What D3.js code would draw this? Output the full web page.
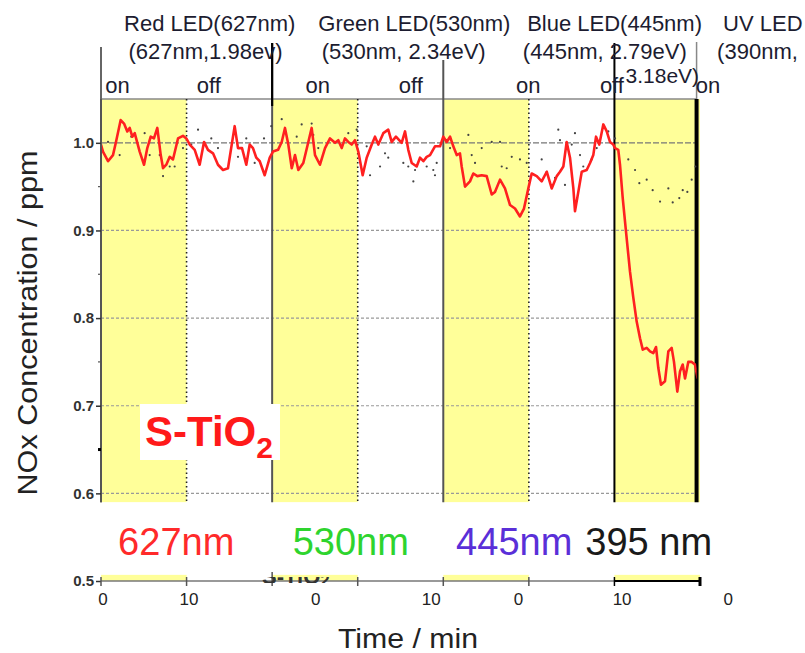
<!DOCTYPE html>
<html><head><meta charset="utf-8">
<script src="https://cdn.jsdelivr.net/npm/d3@7"></script>
<style>body{margin:0;background:#fff}svg{display:block}text{font-family:"Liberation Sans",Arial,sans-serif}</style>
</head><body><svg id="c" width="805" height="653"></svg>
<script>
// ---------- data ----------
const onStarts = [0, 20, 40, 60];
const periodLen = 10;
const tEnd = 69.6;
const redTime = [0,0.23,0.82,1.40,1.75,2.30,2.69,3.07,3.35,3.66,3.94,4.52,5.03,5.41,5.81,6.19,6.58,6.98,7.25,7.63,8.03,8.41,9.00,9.58,9.97,10.37,10.95,11.53,12.04,12.50,13.09,13.67,14.26,14.84,15.62,16.01,16.48,16.98,17.38,17.76,18.15,18.55,19.13,19.72,20.10,20.69,21.12,21.50,21.89,22.29,22.67,23.06,23.64,24.23,24.62,25.01,25.59,26.18,26.76,27.35,27.73,28.13,28.51,28.90,29.30,29.68,30.07,30.58,31.05,31.64,32.02,32.41,32.99,33.57,33.97,34.47,35.14,35.53,35.91,36.31,36.89,37.28,37.67,38.06,38.45,39.03,39.62,40.00,40.40,40.79,41.17,41.57,41.95,42.15,42.54,43.12,43.51,43.98,44.49,45.07,45.66,46.04,46.63,47.21,47.80,48.38,48.96,49.43,49.94,50.33,50.92,51.50,52.09,52.67,53.26,53.64,54.03,54.42,54.81,55.20,55.39,55.78,56.18,56.76,57.15,57.53,57.85,58.23,58.70,59.10,59.48,59.87,60.07,60.45,60.65,60.97,61.35,61.82,62.21,62.60,62.99,63.31,63.77,64.16,64.54,64.86,65.13,65.44,65.91,66.30,66.69,66.96,67.35,67.66,67.98,68.25,68.63,69.03,69.41,69.73];
const redValue = [0.998,0.990,0.979,0.986,1.001,1.026,1.022,1.013,1.017,1.007,1.011,0.990,0.975,0.994,1.007,1.005,1.017,0.986,0.971,0.975,0.984,0.981,1.005,1.008,1.005,0.998,0.992,0.975,1.001,0.992,0.988,0.975,0.969,0.971,1.019,0.994,0.994,0.975,0.998,0.994,0.983,0.979,0.963,0.983,0.990,0.992,1.001,1.017,0.998,0.971,0.986,0.969,0.977,1.001,1.017,0.986,0.975,0.994,1.005,1.000,1.003,0.994,1.005,1.001,0.998,1.003,0.990,0.963,0.983,0.998,1.007,0.998,1.011,1.015,1.001,1.007,1.000,1.013,0.992,0.977,0.973,0.983,0.979,0.984,0.986,0.996,0.996,1.007,1.001,1.007,0.996,0.986,0.988,0.973,0.950,0.956,0.965,0.962,0.963,0.962,0.941,0.944,0.958,0.948,0.929,0.925,0.916,0.925,0.948,0.965,0.962,0.956,0.967,0.948,0.962,0.967,0.973,1.001,0.983,0.948,0.922,0.944,0.967,0.969,0.977,0.986,1.007,0.998,1.021,1.013,1.001,0.998,0.994,0.992,0.975,0.937,0.899,0.853,0.823,0.796,0.777,0.764,0.766,0.762,0.760,0.767,0.743,0.724,0.728,0.762,0.766,0.750,0.716,0.739,0.747,0.731,0.750,0.750,0.747,0.731];
const refTime = [0.82,2.18,3.54,5.10,5.69,6.86,7.25,8.03,8.61,9.58,10.55,11.34,12.89,13.67,14.26,16.01,16.98,17.96,19.05,19.90,21.12,22.87,23.45,24.62,24.81,25.39,28.90,29.88,31.05,31.44,32.61,33.19,33.57,35.33,35.91,36.50,36.70,38.06,38.83,39.03,39.23,40.40,40.79,42.93,43.32,43.71,44.49,45.66,46.63,46.83,47.41,48.00,48.96,49.75,51.50,52.09,53.06,53.44,53.64,54.22,55.01,55.39,55.98,56.36,57.34,57.93,59.29,60.07,61.62,62.41,62.91,63.77,64.47,65.33,66.30,66.81,67.58,67.98,68.52,69.03,69.47];
const refValue = [1.001,0.986,1.007,1.011,0.986,0.986,0.962,0.973,0.973,0.994,0.998,1.015,1.005,0.994,0.969,0.984,1.005,0.977,1.005,1.019,1.027,1.007,1.021,1.022,1.009,0.994,1.011,1.015,0.996,0.963,0.973,0.988,0.983,0.977,0.973,0.956,0.969,0.973,0.969,0.963,0.977,1.003,0.994,1.009,0.986,0.977,0.994,1.001,1.001,0.973,0.971,0.984,0.981,0.977,0.981,0.967,0.960,1.015,1.003,0.952,0.998,1.011,0.986,0.973,0.981,0.994,1.013,1.005,0.981,0.969,0.954,0.958,0.946,0.933,0.948,0.932,0.937,0.946,0.944,0.958,0.973];
const yTicks = [0.5, 0.6, 0.7, 0.8, 0.9, 1.0];
const yMinor = [0.65, 0.75, 0.85, 0.95];
const xTicks = [0, 10, 20, 30, 40, 50, 60, 70];
const xTickLabels = ["0", "10", "0", "10", "0", "10", "0"];
const xTickLabelAt = [0.23, 10.28, 25.1, 38.6, 48.8, 60.9, 73.3];
const ledNames = ["Red LED(627nm)", "Green LED(530nm)", "Blue LED(445nm)", "UV LED"];
const ledNameAt = [2.7, 25.4, 49.8, 72.7];
const ledSubs = ["(627nm,1.98ev)", "(530nm, 2.34eV)", "(445nm, 2.79eV)", "(390nm,"];
const ledSubAt = [3.2, 25.8, 49.3, 72.0];
const ledSubExtra = "3.18eV)";
const ledSubExtraAt = 61.3;
const stateLabels = ["on", "off", "on", "off", "on", "off", "on"];
const stateAt = [0.5, 11.2, 23.9, 34.8, 48.5, 58.3, 69.5];
const nmLabels = ["627nm", "530nm", "445nm", "395 nm"];
const nmColors = ["#ff2a2a", "#2ed42e", "#5a2fd8", "#1a1a1a"];
const nmAt = [2.0, 22.4, 41.5, 56.6];
const sampleName = "S-TiO";
const sampleSub = "2";

// ---------- drawing ----------
const svg = d3.select("#c");
const x = d3.scaleLinear().domain([0, 70]).range([101, 700]);
const y = d3.scaleLinear().domain([0.5, 1.05]).range([581, 99]);
const yBot = 0.59;
const ink = "#1c1c30";

// yellow "on" bands (main)
svg.append("g").selectAll("rect").data(onStarts).join("rect")
  .attr("x", d => x(d)).attr("y", y(1.05))
  .attr("width", d => x(Math.min(d + periodLen, 70)) - x(d))
  .attr("height", y(yBot) - y(1.05)).attr("fill", "#ffff99");
// yellow strip near bottom axis
svg.append("g").selectAll("rect").data(onStarts).join("rect")
  .attr("x", d => x(d)).attr("y", y(0.507))
  .attr("width", d => x(Math.min(d + periodLen, 70)) - x(d))
  .attr("height", y(0.5) - y(0.507)).attr("fill", "#ffff99");

// horizontal grid
svg.append("g").selectAll("line").data(yTicks.filter(d => d >= 0.6)).join("line")
  .attr("x1", x(0)).attr("x2", x(tEnd)).attr("y1", d => y(d)).attr("y2", d => y(d))
  .attr("stroke", d => d === 1.0 ? "#777" : "#999").attr("stroke-width", 1.2)
  .attr("stroke-dasharray", d => d === 1.0 ? "6,2" : "3,2");

// top border line
svg.append("line").attr("x1", x(0)).attr("x2", x(tEnd)).attr("y1", y(1.05)).attr("y2", y(1.05))
  .attr("stroke", "#888").attr("stroke-width", 1.5);

// dotted "off" start lines
svg.append("g").selectAll("line").data(onStarts.map(d => d + periodLen).filter(d => d < tEnd)).join("line")
  .attr("x1", d => x(d)).attr("x2", d => x(d)).attr("y1", y(1.05)).attr("y2", y(yBot))
  .attr("stroke", "#222").attr("stroke-width", 1.6).attr("stroke-dasharray", "1.5,3");

// solid dividers
const dividers = [0, 20, 40, 60];
const divTop = [47, 43, 60, 43];
const divColor = ["#666", "#555", "#555", "#000"];
svg.append("g").selectAll("line").data(dividers).join("line")
  .attr("x1", d => x(d)).attr("x2", d => x(d))
  .attr("y1", (d, i) => divTop[i]).attr("y2", y(yBot))
  .attr("stroke", (d, i) => divColor[i]).attr("stroke-width", 2);
svg.append("line").attr("x1", x(20)).attr("x2", x(20)).attr("y1", 43).attr("y2", 106)
  .attr("stroke", "#000").attr("stroke-width", 2.2);
// right edge
svg.append("line").attr("x1", x(tEnd)).attr("x2", x(tEnd)).attr("y1", 42).attr("y2", y(1.05))
  .attr("stroke", "#888").attr("stroke-width", 1.5);
svg.append("line").attr("x1", x(tEnd)).attr("x2", x(tEnd)).attr("y1", y(1.05)).attr("y2", y(yBot))
  .attr("stroke", "#000").attr("stroke-width", 4);

// clip
svg.append("clipPath").attr("id", "clip").append("rect")
  .attr("x", x(0)).attr("y", y(1.05)).attr("width", x(tEnd) - x(0)).attr("height", y(yBot) - y(1.05));

// reference dots
svg.append("g").attr("clip-path", "url(#clip)").selectAll("circle").data(refTime).join("circle")
  .attr("cx", d => x(d)).attr("cy", (d, i) => y(refValue[i])).attr("r", 1.1).attr("fill", "#444");

// red line
const line = d3.line().x(d => x(d[0])).y(d => y(d[1]));
svg.append("path").attr("clip-path", "url(#clip)")
  .datum(redTime.map((t, i) => [t, redValue[i]]))
  .attr("d", line).attr("fill", "none").attr("stroke", "#ff2020").attr("stroke-width", 2.6)
  .attr("stroke-linejoin", "round");

// left axis line
svg.append("line").attr("x1", x(0)).attr("x2", x(0)).attr("y1", y(1.05)).attr("y2", y(yBot))
  .attr("stroke", "#555").attr("stroke-width", 2);

// y axis ticks & labels
const yAxis = d3.axisLeft(y).tickValues(yTicks).tickFormat(d3.format(".1f")).tickSize(5).tickPadding(2);
const ya = svg.append("g").attr("transform", `translate(${x(0)},0)`).call(yAxis);
ya.select(".domain").remove();
ya.selectAll("line").attr("stroke", "#333").attr("stroke-width", 1.5);
ya.selectAll("text").attr("font-size", 15).attr("fill", "#333").attr("font-weight", "bold")
  .attr("font-family", '"Liberation Sans",Arial,sans-serif');
svg.append("g").selectAll("line").data(yMinor).join("line")
  .attr("x1", x(0) - 3).attr("x2", x(0)).attr("y1", d => y(d)).attr("y2", d => y(d))
  .attr("stroke", d => d === 0.65 ? "#000" : "#555").attr("stroke-width", d => d === 0.65 ? 3 : 1.2);

// bottom axis
svg.append("line").attr("x1", x(0)).attr("x2", x(60)).attr("y1", y(0.5)).attr("y2", y(0.5))
  .attr("stroke", "#777").attr("stroke-width", 1.5);
svg.append("line").attr("x1", x(60)).attr("x2", x(70)).attr("y1", y(0.5)).attr("y2", y(0.5))
  .attr("stroke", "#000").attr("stroke-width", 2);
svg.append("g").selectAll("line").data(xTicks).join("line")
  .attr("x1", d => x(d)).attr("x2", d => x(d))
  .attr("y1", d => y(0.5) - (d === 20 ? 9 : 4)).attr("y2", y(0.5) + 5)
  .attr("stroke", d => d >= 60 ? "#000" : "#555").attr("stroke-width", d => d === 70 ? 3 : 1.5);
svg.append("g").selectAll("text").data(xTickLabels).join("text")
  .attr("x", (d, i) => x(xTickLabelAt[i])).attr("y", 605).attr("text-anchor", "middle")
  .attr("font-size", 17).attr("fill", "#222").text(d => d);

// hidden sample label fragment at axis
svg.append("clipPath").attr("id", "clipFrag").append("rect")
  .attr("x", 255).attr("y", 577).attr("width", 110).attr("height", 6);
const frag = svg.append("text").attr("clip-path", "url(#clipFrag)")
  .attr("x", 262).attr("y", 584).attr("font-size", 22).attr("font-weight", "bold").attr("fill", "#333");
frag.append("tspan").text(sampleName);
frag.append("tspan").attr("dy", 2).attr("font-size", 17).text(sampleSub);

// white box + sample label
svg.append("rect").attr("x", 140).attr("y", 404).attr("width", 140).attr("height", 56).attr("fill", "#fff");
const st = svg.append("text").attr("x", 145).attr("y", 446).attr("font-size", 42)
  .attr("font-weight", "bold").attr("fill", "#ff1a1a");
st.append("tspan").text(sampleName);
st.append("tspan").attr("dy", 12).attr("font-size", 30).text(sampleSub);

// nm labels
svg.append("g").selectAll("text").data(nmLabels).join("text")
  .attr("x", (d, i) => x(nmAt[i])).attr("y", 555).attr("font-size", 38)
  .attr("fill", (d, i) => nmColors[i]).text(d => d);

// top labels
svg.append("g").selectAll("text").data(ledNames).join("text")
  .attr("x", (d, i) => x(ledNameAt[i])).attr("y", 31).attr("font-size", 22).attr("fill", ink).text(d => d);
svg.append("g").selectAll("text").data(ledSubs).join("text")
  .attr("x", (d, i) => x(ledSubAt[i])).attr("y", 59).attr("font-size", 22).attr("fill", ink).text(d => d);
svg.append("g").selectAll("text").data(stateLabels).join("text")
  .attr("x", (d, i) => x(stateAt[i])).attr("y", 93).attr("font-size", 22).attr("fill", ink).text(d => d);
svg.append("text").attr("x", x(ledSubExtraAt)).attr("y", 83).attr("font-size", 21).attr("fill", ink).text(ledSubExtra);

// axis titles
svg.append("text").attr("transform", `translate(37,323) rotate(-90)`)
  .attr("text-anchor", "middle").attr("font-size", 28).attr("textLength", 345)
  .attr("lengthAdjust", "spacingAndGlyphs").attr("fill", "#222").text("NOx Concentration / ppm");
svg.append("text").attr("x", 408).attr("y", 648).attr("text-anchor", "middle")
  .attr("font-size", 28).attr("textLength", 140).attr("lengthAdjust", "spacingAndGlyphs")
  .attr("fill", "#222").text("Time / min");
</script></body></html>
